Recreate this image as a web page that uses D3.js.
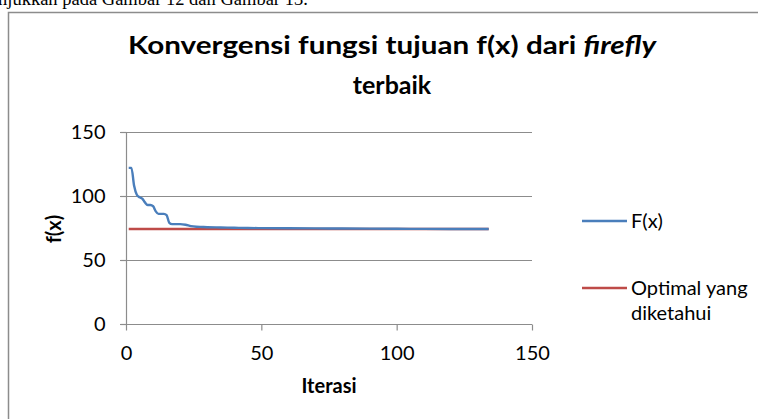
<!DOCTYPE html>
<html>
<head>
<meta charset="utf-8">
<script src="https://cdn.jsdelivr.net/npm/d3@7"></script>
<style>
	body { margin: 0; background: #fff; }
	svg { display: block; }
</style>
</head>
<body>
<div id="chart"></div>
<script>
// data
var iterasi = [1, 2, 3, 4, 5, 6, 7, 8, 9, 10, 11, 12, 13, 14, 15, 16, 17, 18, 20, 22, 24, 26, 28, 30, 35, 40, 45, 50, 60, 70, 80, 90, 100, 110, 120, 134];
var fx = [122, 122, 108, 101, 99, 98, 95, 93, 93, 92, 88, 86, 86, 86, 85, 79, 78, 78, 78, 77.5, 76.5, 76, 75.8, 75.6, 75.4, 75.2, 75, 74.9, 74.8, 74.7, 74.6, 74.5, 74.4, 74.3, 74.2, 74.2];
var optIter = [1, 134];
var optimal = [74.2, 74.2];
var xTicks = [0, 50, 100, 150];
var yTicks = [0, 50, 100, 150];
var seriesNames = ["F(x)", "Optimal yang diketahui"];
var colors = ["#4a7ebb", "#be4b48"];

var W = 758, H = 419;
var font = "Lato, 'Open Sans', sans-serif";

var svg = d3.select("#chart").append("svg")
	.attr("width", W)
	.attr("height", H);

// document text cut at the top
svg.append("text")
	.attr("x", -2)
	.attr("y", 4.5)
	.attr("font-family", "'Liberation Serif', 'Times New Roman', serif")
	.attr("font-size", 18.5)
	.text("njukkan pada Gambar 12 dan Gambar 13.");

// chart frame
svg.append("path")
	.attr("d", "M8.5," + H + "V12.5H" + W)
	.attr("fill", "none")
	.attr("stroke", "#8c8c8c")
	.attr("stroke-width", 1.5);

// title
var title = svg.append("text")
	.attr("font-family", font)
	.attr("font-weight", "bold")
	.attr("font-size", 25)
	.attr("text-anchor", "middle");
var t1 = title.append("tspan").attr("x", 392).attr("y", 54)
	.attr("textLength", 528).attr("lengthAdjust", "spacingAndGlyphs");
t1.append("tspan").text("Konvergensi fungsi tujuan f(x) dari ");
t1.append("tspan").attr("font-style", "italic").text("firefly");
title.append("tspan").attr("x", 392).attr("y", 94).text("terbaik");

var x = d3.scaleLinear().domain([0, 150]).range([126, 532]);
var y = d3.scaleLinear().domain([0, 150]).range([324, 132]);

// gridlines
svg.append("g")
	.selectAll("line")
	.data(yTicks.slice(1))
	.enter()
	.append("line")
	.attr("x1", x(0) - 6)
	.attr("x2", x(150))
	.attr("y1", function(d){ return Math.round(y(d)) + 0.5 })
	.attr("y2", function(d){ return Math.round(y(d)) + 0.5 })
	.attr("stroke", "#8c8c8c")
	.attr("stroke-width", 1.2);

// y axis
var yAxis = svg.append("g")
	.attr("transform", "translate(" + (x(0) + 0.5) + ",0)")
	.call(d3.axisLeft(y).tickValues(yTicks).tickSize(6).tickPadding(15));

// x axis
var xAxis = svg.append("g")
	.attr("transform", "translate(0," + (y(0) + 0.5) + ")")
	.call(d3.axisBottom(x).tickValues(xTicks).tickSize(6).tickPadding(15));

[xAxis, yAxis].forEach(function(a){
	a.select(".domain").attr("stroke", "#8c8c8c").attr("stroke-width", 1.2);
	a.selectAll(".tick line").attr("stroke", "#8c8c8c").attr("stroke-width", 1.2);
	a.selectAll("text")
		.attr("font-family", font)
		.attr("font-size", 20)
		.attr("fill", "#000");
});
yAxis.select(".domain").attr("d", "M0," + y(150) + "V" + y(0));
xAxis.select(".domain").attr("d", "M" + (x(0) - 6) + ",0H" + x(150));

// lines
var line = d3.line()
	.x(function(d){ return x(d[0]) })
	.y(function(d){ return y(d[1]) });

svg.append("path")
	.datum(optIter.map(function(d, i){ return [d, optimal[i]] }))
	.attr("d", line)
	.attr("fill", "none")
	.attr("stroke", colors[1])
	.attr("stroke-width", 2.4);

svg.append("path")
	.datum(iterasi.map(function(d, i){ return [d, fx[i]] }))
	.attr("d", line.curve(d3.curveMonotoneX))
	.attr("fill", "none")
	.attr("stroke", colors[0])
	.attr("stroke-width", 2.4);

// axis titles
svg.append("text")
	.attr("transform", "translate(61,229) rotate(-90)")
	.attr("text-anchor", "middle")
	.attr("font-family", font)
	.attr("font-weight", "bold")
	.attr("font-size", 20)
	.text("f(x)");

svg.append("text")
	.attr("x", 329)
	.attr("y", 393)
	.attr("text-anchor", "middle")
	.attr("font-family", font)
	.attr("font-weight", "bold")
	.attr("font-size", 20)
	.text("Iterasi");

// legend
var legendY = [221, 288];
var legend = svg.append("g");
seriesNames.forEach(function(name, i){
	legend.append("line")
		.attr("x1", 582)
		.attr("x2", 627)
		.attr("y1", legendY[i])
		.attr("y2", legendY[i])
		.attr("stroke", colors[i])
		.attr("stroke-width", 2.4);
	var words = i == 0 ? [name] : ["Optimal yang", "diketahui"];
	words.forEach(function(w, j){
		legend.append("text")
			.attr("x", 631)
			.attr("y", legendY[i] + 7 + j * 25)
			.attr("font-family", font)
			.attr("font-size", 20)
			.text(w);
	});
});
</script>
</body>
</html>
